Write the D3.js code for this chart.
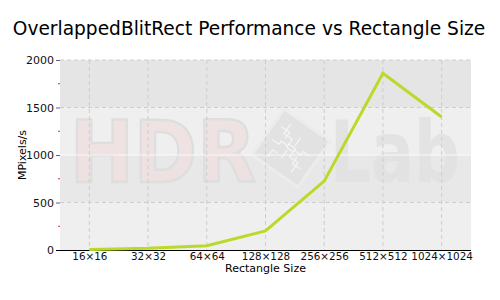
<!DOCTYPE html>
<html>
<head>
<meta charset="utf-8">
<script src="https://cdn.jsdelivr.net/npm/d3@7"></script>
<style>
  body { margin: 0; background: #fff; }
  text { font-family: "DejaVu Sans", Verdana, sans-serif; }
</style>
</head>
<body>
<div id="chart"></div>
<script>
var sizes = ["16\u00d716", "32\u00d732", "64\u00d764", "128\u00d7128", "256\u00d7256", "512\u00d7512", "1024\u00d71024"];
var mpixels = [5, 18, 45, 200, 725, 1860, 1400];
var yTicks = [0, 500, 1000, 1500, 2000];
var yMinor = [250, 750, 1250, 1750];

var margin = {top: 60, right: 29, bottom: 50, left: 60},
    width = 500 - margin.left - margin.right,
    height = 300 - margin.top - margin.bottom;

var svg = d3.select("#chart")
  .append("svg")
  .attr("width", 500)
  .attr("height", 300);

svg.append("text")
  .attr("x", 249)
  .attr("y", 35)
  .attr("text-anchor", "middle")
  .style("font-size", "18.6px")
  .text("OverlappedBlitRect Performance vs Rectangle Size");

var g = svg.append("g")
  .attr("transform", "translate(" + margin.left + "," + margin.top + ")");

var x = d3.scalePoint().domain(sizes).range([0, width]).padding(0.5);
var y = d3.scaleLinear().domain([0, 2000]).range([height, 0]);

// alternating bands
var bands = [[0, 500, "#efefef"], [500, 1000, "#e8e8e8"], [1000, 1500, "#efefef"], [1500, 2000, "#e5e5e5"]];
g.selectAll("rect.band")
  .data(bands)
  .enter().append("rect")
  .attr("class", "band")
  .attr("x", 0)
  .attr("width", width)
  .attr("y", function(d) { return y(d[1]); })
  .attr("height", function(d) { return y(d[0]) - y(d[1]); })
  .attr("fill", function(d) { return d[2]; });

// watermark
var wm = g.append("g");
wm.append("text")
  .attr("x", 10).attr("y", 122)
  .attr("textLength", 186).attr("lengthAdjust", "spacingAndGlyphs")
  .style("font-size", "85px").style("font-weight", "bold")
  .attr("fill", "#efdfdf").attr("fill-opacity", 0.85)
  .attr("stroke", "#dedede").attr("stroke-width", 2.5)
  .text("HDR");
wm.append("text")
  .attr("x", 270).attr("y", 122)
  .attr("textLength", 130).attr("lengthAdjust", "spacingAndGlyphs")
  .style("font-size", "85px").style("font-weight", "bold")
  .attr("fill", "#e0e0e0").attr("fill-opacity", 0.85)
  .text("Lab");
var logo = wm.append("g").attr("transform", "translate(231,88) rotate(35)");
logo.append("rect").attr("x", -28).attr("y", -28).attr("width", 56).attr("height", 56)
  .attr("fill", "#e2e2e2").attr("stroke", "#ececec").attr("stroke-width", 3);
var circuit = ["M-14,-20V-8H-4V-2", "M-20,-12H-10V-4", "M-20,4H-12V0H-4", "M14,20V8H4V2",
  "M20,12H10V4", "M20,-4H12V0H4", "M-4,-2H4V2H-4Z", "M-2,14V4", "M2,-14V-4", "M-14,20V12H-8"];
logo.selectAll("path")
  .data(circuit)
  .enter().append("path")
  .attr("d", function(d) { return d; })
  .attr("fill", "none")
  .attr("stroke", "#f4f4f4")
  .attr("stroke-width", 1.3);

g.append("line")
  .attr("x1", 0).attr("x2", width)
  .attr("y1", y(1000)).attr("y2", y(1000))
  .attr("stroke", "#fafafa");

// dashed grid
g.selectAll("line.hgrid")
  .data([500, 1500, 2000])
  .enter().append("line")
  .attr("x1", 0).attr("x2", width)
  .attr("y1", function(d) { return y(d); })
  .attr("y2", function(d) { return y(d); })
  .attr("stroke", "#cdcdcd")
  .attr("stroke-dasharray", "4,3");

g.selectAll("line.vgrid")
  .data(sizes)
  .enter().append("line")
  .attr("x1", function(d) { return x(d); })
  .attr("x2", function(d) { return x(d); })
  .attr("y1", 0).attr("y2", height)
  .attr("stroke", "#cdcdcd")
  .attr("stroke-dasharray", "4,3");

// axes
var yAxis = g.append("g")
  .call(d3.axisLeft(y).tickValues(yTicks).tickFormat(d3.format("d")).tickSize(4).tickPadding(2));
yAxis.select(".domain").remove();
yAxis.selectAll(".tick line").attr("stroke", "#666");
yAxis.selectAll("text").style("font-size", "11px").attr("fill", "#111");

g.selectAll("line.minor")
  .data(yMinor)
  .enter().append("line")
  .attr("x1", -2).attr("x2", 0)
  .attr("y1", function(d) { return y(d); })
  .attr("y2", function(d) { return y(d); })
  .attr("stroke", "#e03030");

var xAxis = g.append("g")
  .attr("transform", "translate(0," + height + ")")
  .call(d3.axisBottom(x).tickSize(0).tickPadding(3).tickSizeOuter(0));
xAxis.select(".domain").attr("stroke", "#000").attr("d", "M-4,0.5H" + width);
xAxis.selectAll("text").style("font-size", "10.4px").attr("fill", "#111");

svg.append("text")
  .attr("transform", "translate(26," + (margin.top + height / 2) + ") rotate(-90)")
  .attr("text-anchor", "middle")
  .style("font-size", "11px")
  .text("MPixels/s");

svg.append("text")
  .attr("x", margin.left + width / 2)
  .attr("y", 272)
  .attr("text-anchor", "middle")
  .style("font-size", "11px")
  .text("Rectangle Size");

// line
var line = d3.line()
  .x(function(d, i) { return x(sizes[i]); })
  .y(function(d) { return y(d); });

g.append("path")
  .datum(mpixels)
  .attr("fill", "none")
  .attr("stroke", "#bada2a")
  .attr("stroke-width", 3)
  .attr("d", line);
</script>
</body>
</html>
